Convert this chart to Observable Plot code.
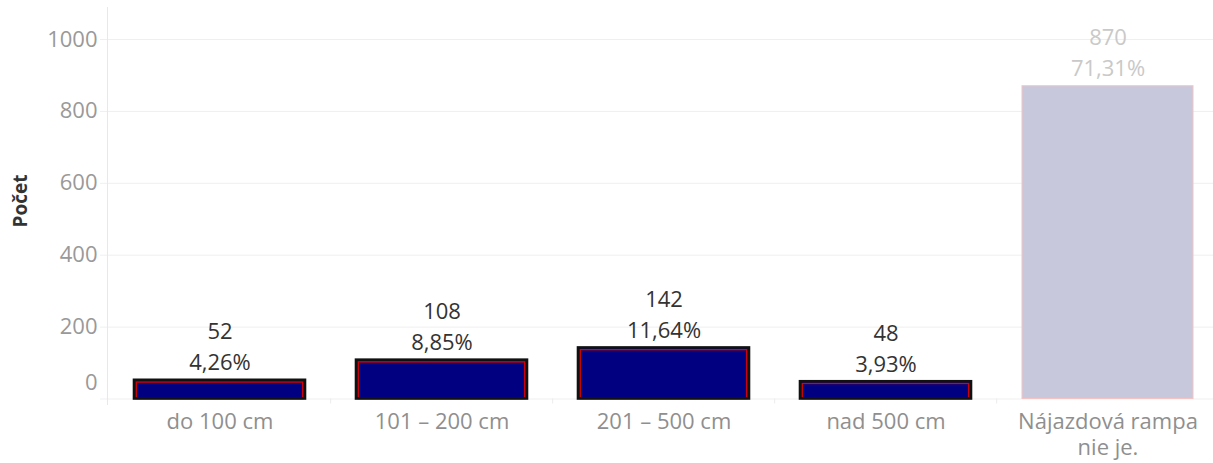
<!DOCTYPE html>
<html><head><meta charset="utf-8">
<script src="https://cdn.jsdelivr.net/npm/d3@7"></script>
<script src="https://cdn.jsdelivr.net/npm/@observablehq/plot@0.6"></script>
<style>body{margin:0;background:#fff;overflow:hidden}</style>
</head><body><div id="chart"></div>
<script>
const categories = ["do 100 cm", "101 – 200 cm", "201 – 500 cm", "nad 500 cm", "Nájazdová rampa\nnie je."];
const counts = [52, 108, 142, 48, 870];
const shares = ["4,26%", "8,85%", "11,64%", "3,93%", "71,31%"];
const highlighted = [true, true, true, true, false];
const yTicks = [0, 200, 400, 600, 800, 1000];
const yTitle = "Počet";

const data = categories.map((c, i) => ({category: c, count: counts[i], share: shares[i], hl: highlighted[i]}));
const hl = data.filter(d => d.hl);
const rest = data.filter(d => !d.hl);
const font = "'Open Sans', sans-serif";

const plot = Plot.plot({
  width: 1213, height: 463,
  marginLeft: 107, marginRight: 0, marginTop: 7, marginBottom: 64,
  style: {fontFamily: font, background: "#fff", overflow: "visible"},
  x: {domain: categories, range: [107, 1220], paddingInner: 0.228, paddingOuter: 0.114, axis: null},
  y: {domain: [0, 1000], range: [398.5, 39], axis: null},
  marks: [
    Plot.ruleY(yTicks, {y: d => d, stroke: "#efefef", strokeWidth: 1, insetLeft: -7}),
    Plot.frame({anchor: "left", stroke: "#e8e8e8", insetBottom: -5}),
    Plot.ruleX(data.slice(1), {x: "category", dx: -111.3, y1: 0, y2: 0, insetBottom: -5, stroke: "#ececec"}),
    Plot.barY(rest, {x: "category", y: "count", fill: "#c8c8dc", stroke: "#f3c4c4", strokeWidth: 1}),
    Plot.barY(hl, {x: "category", y: "count", fill: "#000080"}),
    Plot.barY(hl, {x: "category", y: "count", fill: "none", stroke: "#e00000", strokeWidth: 1.4, insetLeft: 2.2, insetRight: 2.2, insetTop: 2.2}),
    Plot.barY(hl, {x: "category", y: "count", fill: "none", stroke: "#111", strokeWidth: 2.6}),
    Plot.text(hl, {x: "category", y: "count", text: d => `${d.count}\n${d.share}`, dy: -10, lineAnchor: "bottom", lineHeight: 1.42, fontSize: 22, fill: "#333"}),
    Plot.text(rest, {x: "category", y: "count", text: d => `${d.count}\n${d.share}`, dy: -10, lineAnchor: "bottom", lineHeight: 1.42, fontSize: 22, fill: "#c9c9c9"}),
    Plot.axisY({ticks: yTicks.filter(t => t > 0), tickSize: 0, tickPadding: 10, fontSize: 22, color: "#999", label: null, tickFormat: d => String(d)}),
    Plot.axisY({ticks: [0], tickSize: 0, tickPadding: 10, fontSize: 22, color: "#999", label: null, dy: -16}),
    Plot.text([yTitle], {frameAnchor: "left", dx: -87, dy: 24, rotate: -90, fontSize: 19, fontWeight: "bold", fill: "#333"}),
    Plot.text(data, {x: "category", text: "category", frameAnchor: "bottom", lineAnchor: "top", dy: 10, lineHeight: 1.22, fontSize: 22, fill: "#8f8f8f"})
  ]
});
document.getElementById("chart").append(plot);
</script>
</body></html>
